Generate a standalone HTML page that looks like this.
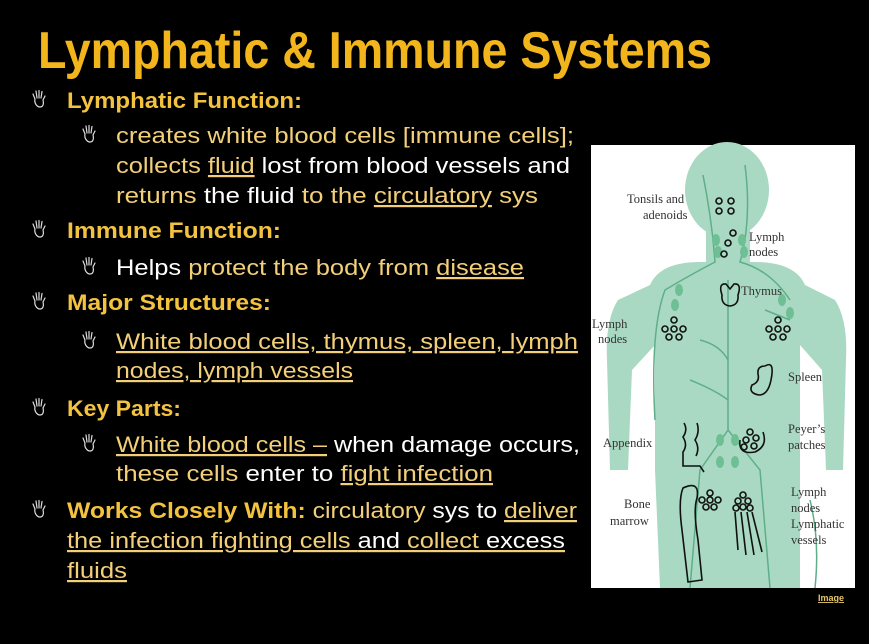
<!DOCTYPE html>
<html><head><meta charset="utf-8"><style>
html,body{margin:0;padding:0;background:#000;}
svg{display:block;}
</style></head><body>
<svg width="869" height="644" viewBox="0 0 869 644" xmlns="http://www.w3.org/2000/svg">
<defs>
<g id="hand">
<path d="M3 9 L1 4 M5 8 L4 1 M7 8 L7 0.5 M9 8 L10 1.5 M11 10 L13 6 M3 9 C2 13 5 17 8 17 C11 17 12 14 11 10" fill="none" stroke="#ddd" stroke-width="1.2" stroke-linecap="round"/>
</g>
</defs>
<rect width="869" height="644" fill="#000"/>
<text x="38" y="68" font-family="Liberation Sans, sans-serif" font-weight="bold" font-size="52" fill="#f2b61c" textLength="674" lengthAdjust="spacingAndGlyphs">Lymphatic &amp; Immune Systems</text>

<g font-family="Liberation Sans, sans-serif" font-size="22">
<use href="#hand" x="32" y="90"/>
<text x="67" y="108" font-weight="bold" fill="#f3c340" textLength="235" lengthAdjust="spacingAndGlyphs">Lymphatic Function:</text>
<use href="#hand" x="82" y="125"/>
<text x="116" y="143" fill="#f2cf78" textLength="458" lengthAdjust="spacingAndGlyphs">creates white blood cells [immune cells];</text>
<text x="116" y="173" fill="#f2cf78" textLength="454" lengthAdjust="spacingAndGlyphs">collects <tspan text-decoration="underline">fluid</tspan><tspan fill="#fff"> lost from blood vessels and</tspan></text>
<text x="116" y="203" fill="#f2cf78" textLength="422" lengthAdjust="spacingAndGlyphs">returns <tspan fill="#fff">the fluid</tspan> to the <tspan text-decoration="underline">circulatory</tspan> sys</text>
<use href="#hand" x="32" y="220"/>
<text x="67" y="238" font-weight="bold" fill="#f3c340" textLength="214" lengthAdjust="spacingAndGlyphs">Immune Function:</text>
<use href="#hand" x="82" y="257"/>
<text x="116" y="275" fill="#f2cf78" textLength="408" lengthAdjust="spacingAndGlyphs"><tspan fill="#fff">Helps</tspan> protect the body from <tspan text-decoration="underline">disease</tspan></text>
<use href="#hand" x="32" y="292"/>
<text x="67" y="310" font-weight="bold" fill="#f3c340" textLength="204" lengthAdjust="spacingAndGlyphs">Major Structures:</text>
<use href="#hand" x="82" y="331"/>
<text x="116" y="349" fill="#f2cf78" text-decoration="underline" textLength="462" lengthAdjust="spacingAndGlyphs">White blood cells, thymus, spleen, lymph</text>
<text x="116" y="378" fill="#f2cf78" text-decoration="underline" textLength="237" lengthAdjust="spacingAndGlyphs">nodes, lymph vessels</text>
<use href="#hand" x="32" y="398"/>
<text x="67" y="416" font-weight="bold" fill="#f3c340" textLength="114" lengthAdjust="spacingAndGlyphs">Key Parts:</text>
<use href="#hand" x="82" y="434"/>
<text x="116" y="452" fill="#f2cf78" textLength="464" lengthAdjust="spacingAndGlyphs"><tspan text-decoration="underline">White blood cells –</tspan><tspan fill="#fff"> when damage occurs,</tspan></text>
<text x="116" y="481" fill="#f2cf78" textLength="377" lengthAdjust="spacingAndGlyphs">these cells <tspan fill="#fff">enter to</tspan> <tspan text-decoration="underline">fight infection</tspan></text>
<use href="#hand" x="32" y="500"/>
<text x="67" y="518" fill="#f2cf78" textLength="510" lengthAdjust="spacingAndGlyphs"><tspan font-weight="bold" fill="#f3c340">Works Closely With:</tspan> circulatory <tspan fill="#fff">sys to</tspan> <tspan text-decoration="underline">deliver</tspan></text>
<text x="67" y="548" fill="#f2cf78" text-decoration="underline" textLength="498" lengthAdjust="spacingAndGlyphs">the infection fighting cells <tspan fill="#fff">and</tspan> collect <tspan fill="#fff">excess</tspan></text>
<text x="67" y="578" fill="#f2cf78" text-decoration="underline" textLength="60" lengthAdjust="spacingAndGlyphs">fluids</text>
</g>

<!-- image panel -->
<rect x="591" y="145" width="264" height="443" fill="#fff"/>
<g fill="#a9d9c2">
<ellipse cx="727" cy="190" rx="42" ry="48"/>
<rect x="706" y="220" width="44" height="50"/>
<path d="M700 262 Q660 262 650 285 L618 300 Q605 320 607 360 L610 470 L628 470 L632 370 L655 345 L655 470 L660 588 L800 588 L800 470 L800 345 L822 370 L826 470 L843 470 L846 360 Q848 320 835 300 L805 285 Q795 262 755 262 Z"/>
</g>
<g fill="none" stroke="#5fae8a" stroke-width="1.5">
<path d="M728 280 L728 430 L700 470 L690 588"/>
<path d="M728 430 L760 470 L770 588"/>
<path d="M703 175 Q712 220 715 262 Q690 275 665 290 Q650 330 655 420"/>
<path d="M745 165 Q752 220 740 262 Q770 270 790 300"/>
<path d="M700 340 Q720 345 728 360 M690 380 Q715 390 728 400 M765 310 L790 320"/>
<path d="M810 500 Q820 540 815 588"/>
</g>
<g fill="#6fbf95">
<ellipse cx="716" cy="240" rx="4" ry="6"/><ellipse cx="742" cy="240" rx="4" ry="6"/>
<ellipse cx="718" cy="252" rx="4" ry="6"/><ellipse cx="744" cy="252" rx="4" ry="6"/>
<ellipse cx="679" cy="290" rx="4" ry="6"/><ellipse cx="675" cy="305" rx="4" ry="6"/>
<ellipse cx="782" cy="300" rx="4" ry="6"/><ellipse cx="790" cy="313" rx="4" ry="6"/>
<ellipse cx="720" cy="440" rx="4" ry="6"/><ellipse cx="735" cy="440" rx="4" ry="6"/>
<ellipse cx="720" cy="462" rx="4" ry="6"/><ellipse cx="735" cy="462" rx="4" ry="6"/>
</g>
<g fill="none" stroke="#111" stroke-width="1.6">
<circle cx="719" cy="201" r="3"/><circle cx="731" cy="201" r="3"/><circle cx="719" cy="211" r="3"/><circle cx="731" cy="211" r="3"/>
<circle cx="733" cy="233" r="3"/><circle cx="728" cy="243" r="3"/><circle cx="724" cy="254" r="3"/>
<path d="M722 295 Q718 283 726 284 L730 289 L734 284 Q742 283 738 295 Q739 305 730 306 Q721 305 722 295 Z"/>
<circle cx="674" cy="320" r="3"/><circle cx="665" cy="329" r="3"/><circle cx="674" cy="329" r="3"/><circle cx="683" cy="329" r="3"/><circle cx="669" cy="337" r="3"/><circle cx="679" cy="337" r="3"/>
<circle cx="778" cy="320" r="3"/><circle cx="769" cy="329" r="3"/><circle cx="778" cy="329" r="3"/><circle cx="787" cy="329" r="3"/><circle cx="773" cy="337" r="3"/><circle cx="783" cy="337" r="3"/>
<path d="M765 366 Q775 360 771 380 Q768 395 759 395 Q748 393 752 385 Q760 382 758 374 Q757 366 765 366 Z"/>
<path d="M684 423 Q688 430 683 437 Q688 445 683 452 L683 466 L700 466 L704 472 M697 423 Q700 432 695 440 Q700 448 696 456"/>
<circle cx="750" cy="432" r="3"/><circle cx="756" cy="438" r="3"/><circle cx="746" cy="440" r="3"/><circle cx="754" cy="446" r="3"/><circle cx="744" cy="447" r="3"/>
<path d="M740 440 Q738 455 755 452 Q768 446 763 432"/>
<path d="M683 488 Q700 480 697 498 Q693 510 698 540 L702 580 L688 582 L682 530 Q678 500 683 488 Z"/>
<circle cx="710" cy="493" r="3"/><circle cx="702" cy="500" r="3"/><circle cx="710" cy="500" r="3"/><circle cx="718" cy="500" r="3"/><circle cx="706" cy="507" r="3"/><circle cx="714" cy="507" r="3"/>
<circle cx="743" cy="495" r="3"/><circle cx="738" cy="501" r="3"/><circle cx="748" cy="501" r="3"/><circle cx="743" cy="507" r="3"/><circle cx="736" cy="508" r="3"/><circle cx="750" cy="508" r="3"/>
<path d="M735 512 L738 550 M741 512 L746 555 M747 512 L754 555 M752 512 L762 552"/>
</g>
<g font-family="Liberation Serif, serif" font-size="12.5" fill="#333">
<text x="627" y="203">Tonsils and</text><text x="643" y="219">adenoids</text>
<text x="749" y="241">Lymph</text><text x="749" y="256">nodes</text>
<text x="741" y="295">Thymus</text>
<text x="592" y="328">Lymph</text><text x="598" y="343">nodes</text>
<text x="788" y="381">Spleen</text>
<text x="603" y="447">Appendix</text>
<text x="788" y="433">Peyer’s</text><text x="788" y="449">patches</text>
<text x="624" y="508">Bone</text><text x="610" y="525">marrow</text>
<text x="791" y="496">Lymph</text><text x="791" y="512">nodes</text><text x="791" y="528">Lymphatic</text><text x="791" y="544">vessels</text>
</g>
<text x="818" y="601" font-family="Liberation Sans, sans-serif" font-size="9" font-weight="bold" fill="#e8c86a" text-decoration="underline">Image</text>
</svg>
</body></html>
